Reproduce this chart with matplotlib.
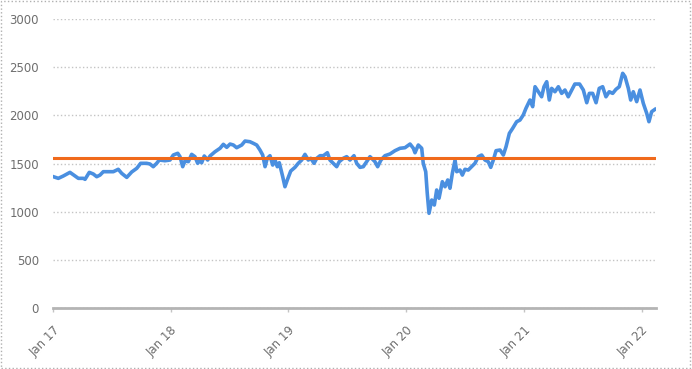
import matplotlib.pyplot as plt
import matplotlib.dates as mdates
from matplotlib.patches import Rectangle
import numpy as np
import pandas as pd

# time as years elapsed since 1 Jan 2017
years = [0.003, 0.045, 0.087, 0.144, 0.187, 0.215, 0.257, 0.272, 0.308, 0.342,
         0.371, 0.399, 0.427, 0.469, 0.512, 0.554, 0.583, 0.626, 0.668, 0.711,
         0.744, 0.795, 0.823, 0.851, 0.880, 0.902, 0.951, 0.993, 1.021, 1.059,
         1.078, 1.101, 1.121, 1.149, 1.177, 1.205, 1.228, 1.248, 1.262, 1.284,
         1.313, 1.333, 1.375, 1.418, 1.446, 1.475, 1.503, 1.531, 1.559, 1.602,
         1.630, 1.672, 1.700, 1.729, 1.757, 1.780, 1.800, 1.819, 1.842, 1.865,
         1.885, 1.904, 1.921, 1.950, 1.969, 1.989, 2.018, 2.054, 2.082, 2.111,
         2.139, 2.167, 2.188, 2.216, 2.239, 2.267, 2.295, 2.329, 2.351, 2.379,
         2.408, 2.430, 2.464, 2.493, 2.521, 2.555, 2.578, 2.606, 2.634, 2.663,
         2.691, 2.705, 2.733, 2.756, 2.784, 2.818, 2.861, 2.903, 2.946, 2.988,
         3.031, 3.059, 3.073, 3.101, 3.130, 3.143, 3.164, 3.177, 3.192, 3.215,
         3.237, 3.257, 3.277, 3.305, 3.328, 3.351, 3.370, 3.390, 3.413, 3.427,
         3.455, 3.475, 3.497, 3.525, 3.554, 3.582, 3.610, 3.639, 3.667, 3.695,
         3.716, 3.738, 3.761, 3.795, 3.823, 3.846, 3.874, 3.902, 3.936, 3.964,
         3.992, 4.015, 4.049, 4.072, 4.092, 4.120, 4.148, 4.168, 4.191, 4.213,
         4.233, 4.261, 4.290, 4.318, 4.346, 4.374, 4.389, 4.403, 4.430, 4.470,
         4.502, 4.531, 4.553, 4.581, 4.610, 4.637, 4.666, 4.694, 4.722, 4.751,
         4.779, 4.807, 4.836, 4.856, 4.884, 4.904, 4.926, 4.955, 4.983, 5.011,
         5.040, 5.059, 5.082, 5.110]

values = [1363, 1346, 1370, 1408, 1370, 1346, 1346, 1336, 1408, 1391,
          1363, 1380, 1415, 1415, 1415, 1440, 1398, 1356, 1412, 1450,
          1502, 1502, 1495, 1467, 1502, 1536, 1529, 1536, 1588, 1606,
          1571, 1467, 1529, 1519, 1595, 1571, 1502, 1536, 1508, 1578,
          1536, 1578, 1622, 1658, 1699, 1668, 1702, 1692, 1664, 1692,
          1733, 1726, 1710, 1692, 1640, 1588, 1467, 1554, 1581, 1484,
          1536, 1467, 1508, 1363, 1259, 1329, 1422, 1460, 1502, 1536,
          1595, 1536, 1554, 1502, 1554, 1581, 1581, 1612, 1536, 1502,
          1467, 1519, 1554, 1571, 1536, 1581, 1502, 1460, 1467, 1519,
          1571, 1554, 1519, 1467, 1536, 1581, 1599, 1633, 1658, 1664,
          1702, 1658, 1612, 1692, 1658, 1502, 1415, 1191, 983, 1121,
          1069, 1225, 1139, 1311, 1259, 1329, 1243, 1398, 1536, 1415,
          1432, 1380, 1440, 1432, 1467, 1502, 1571, 1588, 1536, 1519,
          1460, 1536, 1633, 1640, 1588, 1675, 1813, 1865, 1934, 1951,
          2003, 2073, 2159, 2090, 2297, 2245, 2193, 2297, 2349, 2159,
          2280, 2245, 2297, 2228, 2263, 2193, 2228, 2263, 2325, 2325,
          2263, 2131, 2228, 2228, 2131, 2280, 2297, 2193, 2245, 2228,
          2270, 2297, 2436, 2401, 2280, 2159, 2245, 2142, 2263, 2125,
          2021, 1934, 2038, 2062]

average = 1555
year_ticks = ["2017-01-01", "2018-01-01", "2019-01-01", "2020-01-01", "2021-01-01", "2022-01-01"]

start = pd.Timestamp("2017-01-01")
dates = start + pd.to_timedelta(np.array(years) * 365.25, unit="D")
x_end = start + pd.to_timedelta(5.119 * 365.25, unit="D")

fig = plt.figure(figsize=(6.92, 3.69), dpi=100)
ax = fig.add_axes([0.0766, 0.1653, 0.948 - 0.0766, 0.9485 - 0.1653])

ax.plot(dates, values, color="#4a8fe0", lw=2.6, zorder=3, solid_joinstyle="round")
ax.plot([start, x_end], [average, average], color="#f06a1c", lw=2.2, zorder=4)

ax.set_xlim(start, x_end)
ax.set_ylim(0, 3000)
ax.set_yticks(range(0, 3001, 500))
ax.set_xticks(pd.to_datetime(year_ticks))
ax.xaxis.set_major_formatter(mdates.DateFormatter("%b %y"))

ax.grid(axis="y", color="#c4c4c4", linestyle=":", lw=1)
ax.set_axisbelow(True)
for s in ["top", "right", "left"]:
    ax.spines[s].set_visible(False)
ax.spines["bottom"].set_color("#b4b4b4")
ax.spines["bottom"].set_linewidth(2)

ax.tick_params(axis="y", length=0, pad=10, labelsize=8.5, labelcolor="#6e6e6e")
ax.tick_params(axis="x", length=3, width=1, color="#c4c4c4", pad=8.5,
               labelsize=8.5, labelcolor="#6e6e6e")
for lab in ax.get_xticklabels():
    lab.set_rotation(45)
    lab.set_ha("right")
    lab.set_rotation_mode("anchor")

# dotted frame round the whole chart
fig.add_artist(Rectangle((0.002, 0.003), 0.995, 0.993, transform=fig.transFigure,
                         fill=False, edgecolor="#b0b0b0", linestyle=":", lw=1))

fig.savefig("out.png", dpi=100)
